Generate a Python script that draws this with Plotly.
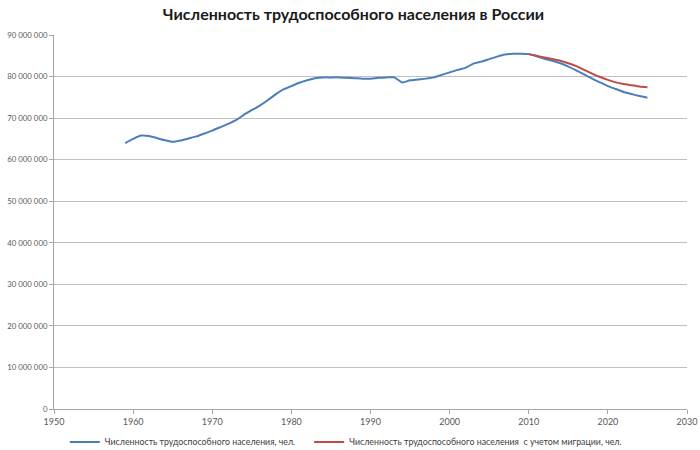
import plotly.graph_objects as go

years_blue = list(range(1959, 2026))
blue_mln = [64.0, 65.0, 65.8, 65.7, 65.2, 64.7, 64.3, 64.6, 65.1, 65.6,
            66.3, 67.0, 67.8, 68.6, 69.5, 70.8, 71.9, 73.0, 74.3, 75.7,
            76.9, 77.7, 78.5, 79.1, 79.6, 79.8, 79.8, 79.8, 79.7, 79.6,
            79.5, 79.5, 79.7, 79.8, 79.8, 78.6, 79.1, 79.3, 79.5, 79.8,
            80.4, 81.0, 81.6, 82.1, 83.1, 83.6, 84.2, 84.8, 85.3, 85.5,
            85.5, 85.4, 84.9, 84.3, 83.8, 83.2, 82.4, 81.5, 80.5, 79.5,
            78.6, 77.7, 77.0, 76.3, 75.8, 75.3, 74.9]

years_red = list(range(2010, 2026))
red_mln = [85.4, 85.0, 84.6, 84.2, 83.8, 83.2, 82.5, 81.6, 80.7, 79.9,
           79.2, 78.6, 78.2, 77.9, 77.6, 77.4]

name_blue = "Численность трудоспособного населения, чел."
name_red = "Численность трудоспособного населения  с учетом миграции, чел."
title = "Численность трудоспособного населения в России"

y_ticks = [0, 10_000_000, 20_000_000, 30_000_000, 40_000_000, 50_000_000,
           60_000_000, 70_000_000, 80_000_000, 90_000_000]
y_ticktext = ["0", "10 000 000", "20 000 000", "30 000 000", "40 000 000",
              "50 000 000", "60 000 000", "70 000 000", "80 000 000", "90 000 000"]

pad = "\u00a0" * 4

fig = go.Figure()
fig.add_trace(go.Scatter(x=years_blue, y=[v * 1e6 for v in blue_mln], mode="lines",
                         name=name_blue + pad,
                         line=dict(color="#4A7EBB", width=2, shape="spline", smoothing=0.6)))
fig.add_trace(go.Scatter(x=years_red, y=[v * 1e6 for v in red_mln], mode="lines",
                         name=name_red,
                         line=dict(color="#BE4B48", width=2, shape="spline", smoothing=0.6)))

fig.update_layout(
    width=700, height=450,
    margin=dict(l=54, r=13, t=35, b=41, autoexpand=False),
    paper_bgcolor="white", plot_bgcolor="white",
    font=dict(family="Lato, Open Sans, sans-serif", size=8.5, color="#595959"),
    title=dict(text="<b>" + title + "</b>", x=0.505, xref="container", xanchor="center",
               y=0.968, yanchor="middle",
               font=dict(size=16, color="#1a1a1a", family="Lato, Open Sans, sans-serif")),
    showlegend=True,
    legend=dict(orientation="h", x=0.017, xanchor="left", y=-0.088, yanchor="middle",
                itemwidth=30, bgcolor="rgba(0,0,0,0)",
                font=dict(size=8.8, color="#404040")),
    xaxis=dict(range=[1950, 2030], dtick=10, tick0=1950, showgrid=False,
               showline=True, linecolor="#A6A6A6", ticks="outside", ticklen=4,
               tickcolor="#A6A6A6", zeroline=False, ticklabelstandoff=0,
               tickfont=dict(size=9), automargin=False),
    yaxis=dict(range=[0, 90_000_000], tickvals=y_ticks, ticktext=y_ticktext,
               showgrid=True, gridcolor="#BFBFBF", gridwidth=1,
               showline=True, linecolor="#A6A6A6", ticks="outside", ticklen=4,
               tickcolor="#A6A6A6", zeroline=False, automargin=False,
               tickfont=dict(size=7.8)),
)

fig.write_html("out.html", config={"displayModeBar": False},
               post_script="document.body.style.margin='0';")
